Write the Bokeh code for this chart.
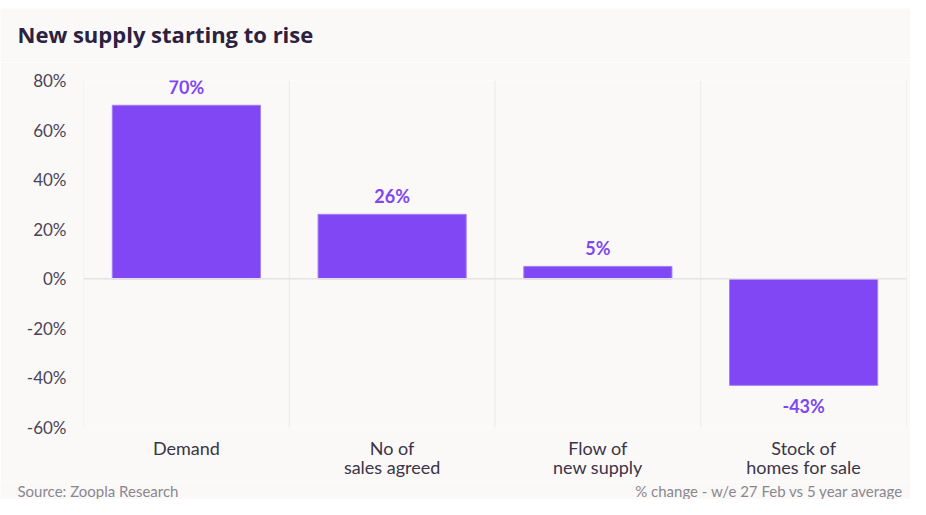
from bokeh.plotting import figure
from bokeh.layouts import column
from bokeh.models import ColumnDataSource, Span, FixedTicker, PrintfTickFormatter, Range1d
from bokeh.core.properties import value
from bokeh.embed import file_html
from bokeh.resources import INLINE

categories = ["Demand", "No of\nsales agreed", "Flow of\nnew supply", "Stock of\nhomes for sale"]
values = [70, 26, 5, -43]
value_labels = ["70%", "26%", "5%", "-43%"]
y_ticks = [-60, -40, -20, 0, 20, 40, 60, 80]
title_text = "New supply starting to rise"
source_text = "Source: Zoopla Research"
note_text = "% change - w/e 27 Feb vs 5 year average"

FONT = "Lato"
BG = "#faf9f7"
BAR = "#8247f5"
W = 910


def strip(h, top=0):
    f = figure(width=W, height=h, x_range=Range1d(0, W), y_range=Range1d(0, h - top),
               output_backend="svg", toolbar_location=None,
               min_border_left=0, min_border_right=0, min_border_top=top, min_border_bottom=0)
    f.axis.visible = False
    f.grid.grid_line_color = None
    f.outline_line_color = None
    f.background_fill_color = BG
    f.border_fill_color = "white" if top else BG
    return f


# header
header = strip(62, top=8)
header.text(x=[17], y=[29], text=[title_text], text_align="left", text_baseline="middle",
            text_font=value("Open Sans"), text_font_style="bold", text_font_size="22px",
            text_color="#2c2240")

# main chart
p = figure(x_range=categories, y_range=(-60, 80), width=W, height=419,
           output_backend="svg", toolbar_location=None,
           min_border_left=83, min_border_right=4, min_border_top=18, min_border_bottom=53)
p.background_fill_color = BG
p.border_fill_color = BG
p.outline_line_color = None
p.xgrid.grid_line_color = None
p.ygrid.grid_line_color = None

for i in range(len(categories) + 1):
    p.add_layout(Span(location=i, dimension="height", line_color="#eceae8", line_width=1))
p.add_layout(Span(location=0, dimension="width", line_color="#e5e3e1", line_width=1.5))

offsets = [-18 if v >= 0 else 21 for v in values]
src = ColumnDataSource(dict(x=categories, top=values, lab=value_labels, yo=offsets))
p.vbar(x="x", top="top", bottom=0, width=0.72, source=src,
       fill_color=BAR, line_color="#a37ff7", line_width=1)
p.text(x="x", y="top", text="lab", y_offset="yo", source=src,
       text_align="center", text_baseline="middle",
       text_font=value(FONT), text_font_style="bold", text_font_size="18px",
       text_color="#8047f0")

p.yaxis.ticker = FixedTicker(ticks=y_ticks)
p.yaxis.formatter = PrintfTickFormatter(format="%d%%")
for ax in (p.xaxis, p.yaxis):
    ax.axis_line_color = None
    ax.major_tick_line_color = None
    ax.minor_tick_line_color = None
    ax.major_label_text_font = FONT
p.yaxis.major_label_text_font_size = "17px"
p.yaxis.major_label_text_color = "#4b4458"
p.yaxis.major_label_standoff = 11
p.xaxis.major_label_text_font_size = "18px"
p.xaxis.major_label_text_color = "#3b3448"
p.xaxis.major_label_standoff = 3
p.xaxis.major_label_text_line_height = 0.9

# footer
footer = strip(18)
footer.text(x=[17], y=[9], text=[source_text], text_align="left", text_baseline="middle",
            text_font=value(FONT), text_font_size="15px", text_color="#8a8790")
footer.text(x=[903], y=[9], text=[note_text], text_align="right", text_baseline="middle",
            text_font=value(FONT), text_font_size="15px", text_color="#8a8790")

layout = column(column(header), p, column(footer), spacing=0)
open("out.html", "w").write(file_html(layout, INLINE))
